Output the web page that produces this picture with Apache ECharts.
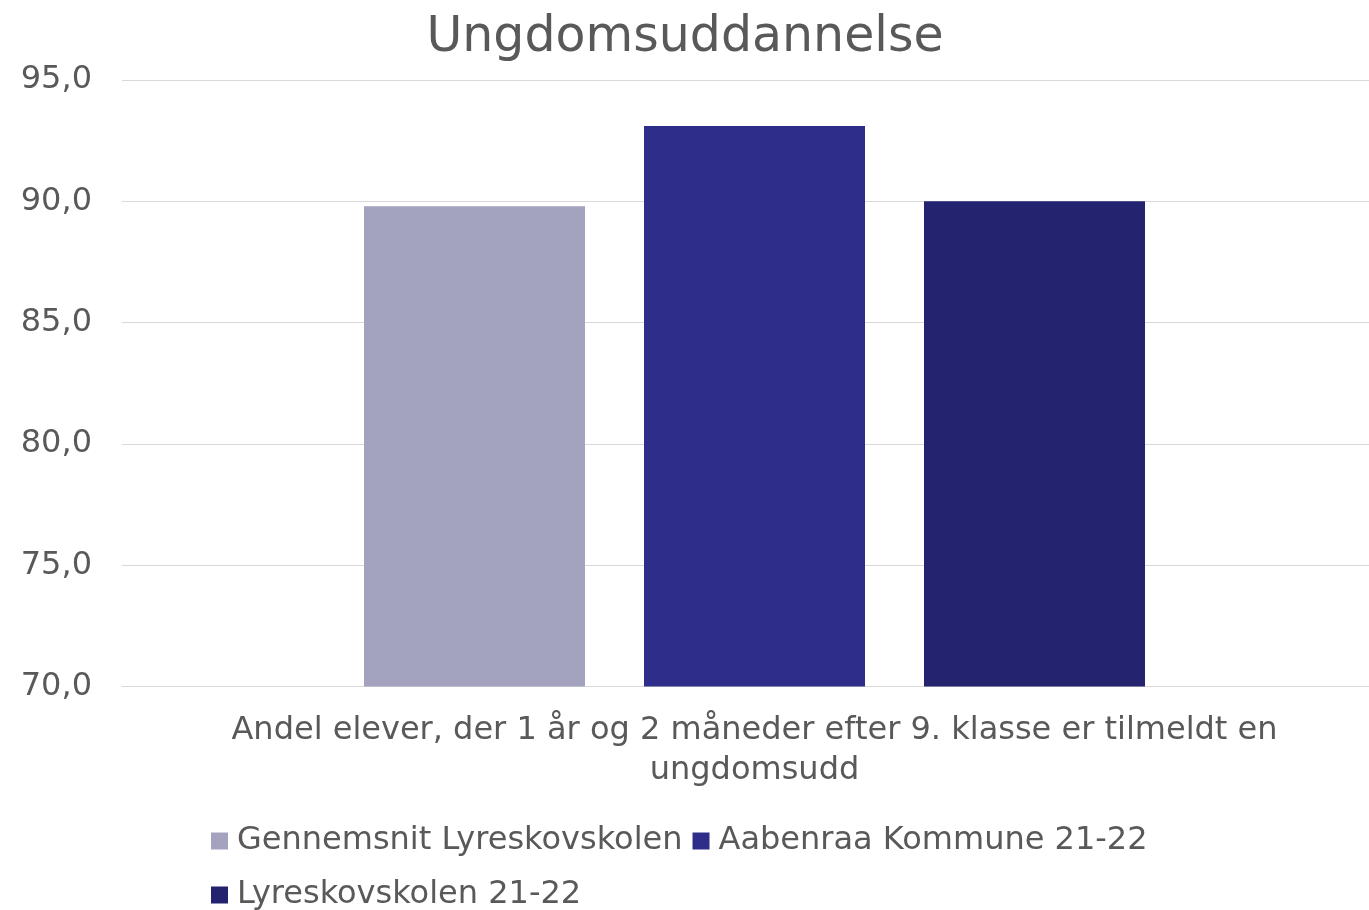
<!DOCTYPE html>
<html>
<head>
<meta charset="utf-8">
<script src="https://cdn.jsdelivr.net/npm/echarts@6/dist/echarts.min.js"></script>
<style>
  html, body { margin: 0; padding: 0; background: #ffffff; overflow: hidden; }
  /* the plot runs a little past the right edge of the picture */
  #chart { width: 1387px; height: 910px; }
</style>
</head>
<body>
<div id="chart"></div>
<script>
// data
const categories = ['Andel elever, der 1 år og 2 måneder efter 9. klasse er tilmeldt en\nungdomsudd']
const seriesNames = ['Gennemsnit Lyreskovskolen', 'Aabenraa Kommune 21-22', 'Lyreskovskolen 21-22']
const gennemsnit = [89.8]
const aabenraa = [93.1]
const lyreskov = [90.0]
const seriesColors = ['#a3a3bf', '#2e2e8a', '#232370']

const textColor = '#595959'
const fontFamily = '"DejaVu Sans", Verdana, sans-serif'

const valueLists = [gennemsnit, aabenraa, lyreskov]

const chart = echarts.init(document.getElementById('chart'))
const option = {
  animation: false,
  title: {
    text: 'Ungdomsuddannelse',
    left: 680,
    textAlign: 'center',
    top: 9,
    textStyle: { color: textColor, fontSize: 49, fontWeight: 'normal', fontFamily: fontFamily }
  },
  legend: {
    data: seriesNames,
    left: 206,
    top: 814,
    width: 1000,
    icon: 'rect',
    itemWidth: 17,
    itemHeight: 17,
    itemGap: 10,
    textStyle: { color: textColor, fontSize: 32, fontFamily: fontFamily, lineHeight: 44, padding: [0, 0, 0, 4] }
  },
  grid: {
    left: 122,
    right: 0,
    top: 80,
    bottom: 223.5,
    containLabel: false
  },
  xAxis: {
    type: 'category',
    data: categories,
    axisTick: { show: false },
    axisLine: { lineStyle: { color: '#d9d9d9', width: 1 } },
    axisLabel: {
      color: textColor,
      fontSize: 32,
      lineHeight: 40,
      margin: 24,
      fontFamily: fontFamily
    }
  },
  yAxis: {
    type: 'value',
    min: 70,
    max: 95,
    interval: 5,
    axisLine: { show: false },
    axisTick: { show: false },
    splitLine: { lineStyle: { color: '#d9d9d9', width: 1 } },
    axisLabel: {
      color: textColor,
      fontSize: 32,
      margin: 30,
      fontFamily: fontFamily,
      formatter: v => v.toFixed(1).replace('.', ',')
    }
  },
  series: seriesNames.map((name, i) => ({
    name: name,
    type: 'bar',
    data: valueLists[i],
    barWidth: 221,
    barGap: '26.7%',
    itemStyle: { color: seriesColors[i] }
  }))
}
chart.setOption(option)
</script>
</body>
</html>
